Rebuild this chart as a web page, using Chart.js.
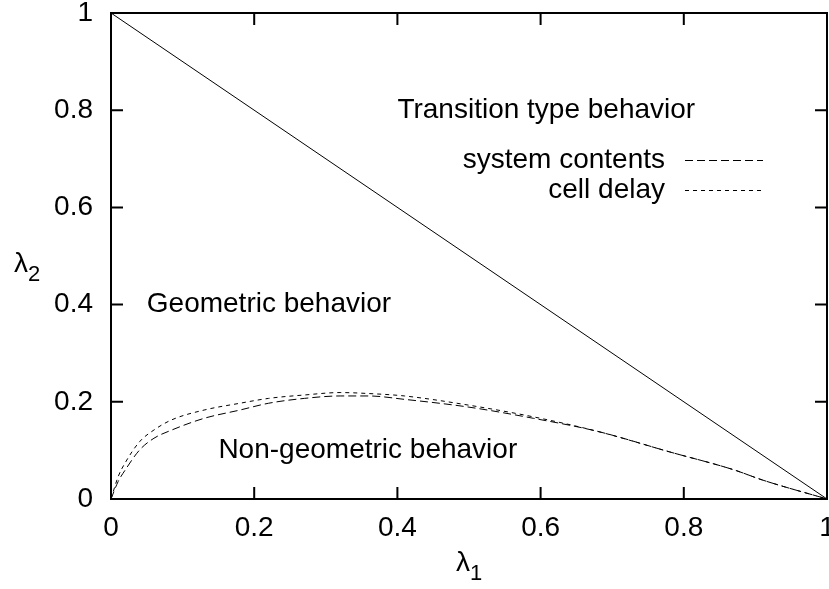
<!DOCTYPE html>
<html>
<head>
<meta charset="utf-8">
<script src="https://cdn.jsdelivr.net/npm/chart.js@4/dist/chart.umd.min.js"></script>
<style>
  html, body { margin: 0; padding: 0; background: #fff; }
  canvas { display: block; }
</style>
</head>
<body>
<canvas id="c" width="829" height="589"></canvas>
<script>
// Tick positions and their labels on both axes
const xTicks = [0, 0.2, 0.4, 0.6, 0.8, 1];
const xTickLabels = ["0", "0.2", "0.4", "0.6", "0.8", "1"];
const yTicks = [0, 0.2, 0.4, 0.6, 0.8, 1];
const yTickLabels = ["0", "0.2", "0.4", "0.6", "0.8", "1"];

// Boundary between geometric and transition behaviour: lambda1 + lambda2 = 1
const boundaryX = [0, 1];
const boundaryY = [1, 0];

// System contents boundary curve
const sysX = [0, 0.01, 0.02, 0.04, 0.06, 0.085, 0.13, 0.18, 0.22, 0.27, 0.32, 0.36, 0.41, 0.5, 0.59, 0.68, 0.78, 0.87, 0.91, 1];
const sysY = [0, 0.036, 0.060, 0.101, 0.125, 0.142, 0.166, 0.183, 0.197, 0.207, 0.212, 0.212, 0.205, 0.189, 0.166, 0.139, 0.097, 0.060, 0.039, 0];

// Cell delay boundary curve
const delayX = [0, 0.01, 0.02, 0.04, 0.06, 0.085, 0.13, 0.18, 0.22, 0.27, 0.32, 0.36, 0.41, 0.5, 0.59, 0.68, 0.78, 0.87, 0.91, 1];
const delayY = [0, 0.046, 0.075, 0.118, 0.142, 0.163, 0.183, 0.197, 0.207, 0.214, 0.219, 0.217, 0.212, 0.193, 0.169, 0.139, 0.097, 0.060, 0.039, 0];

// Region labels (left edge anchored at data coordinates)
const regionText = ["Transition type behavior", "Geometric behavior", "Non-geometric behavior"];
const regionX = [0.4, 0.05, 0.15];
const regionY = [0.8, 0.4, 0.1];

const seriesNames = ["system contents", "cell delay"];

const FONT = "Liberation Sans, Arial, Helvetica, sans-serif";
const FSIZE = 28;

const pts = (xs, ys) => xs.map((x, i) => ({ x: x, y: ys[i] }));

// Fixed plot box: no extra room reserved for overhanging end labels
const fixBox = (s, size) => {
  if (s.isHorizontal()) s.height = size; else s.width = size;
  s.paddingTop = 0; s.paddingBottom = 0; s.paddingLeft = 0; s.paddingRight = 0;
};

const framePlugin = {
  id: 'frame',
  afterDatasetsDraw(chart) {
    const ctx = chart.ctx;
    const a = chart.chartArea;
    const xs = chart.scales.x, ys = chart.scales.y;
    const tl = 12;
    ctx.save();
    ctx.strokeStyle = '#000';
    ctx.setLineDash([]);
    // inward ticks, mirrored on top and right
    ctx.lineWidth = 2;
    ctx.beginPath();
    xTicks.forEach(v => {
      const px = xs.getPixelForValue(v);
      ctx.moveTo(px, a.bottom); ctx.lineTo(px, a.bottom - tl);
      ctx.moveTo(px, a.top); ctx.lineTo(px, a.top + tl);
    });
    yTicks.forEach(v => {
      const py = ys.getPixelForValue(v);
      ctx.moveTo(a.left, py); ctx.lineTo(a.left + tl, py);
      ctx.moveTo(a.right, py); ctx.lineTo(a.right - tl, py);
    });
    ctx.stroke();
    // frame
    ctx.strokeRect(a.left, a.top, a.right - a.left, a.bottom - a.top);

    // region labels
    ctx.fillStyle = '#000';
    ctx.font = FSIZE + 'px ' + FONT;
    ctx.textBaseline = 'middle';
    ctx.textAlign = 'left';
    regionText.forEach((t, i) => {
      ctx.fillText(t, xs.getPixelForValue(regionX[i]), ys.getPixelForValue(regionY[i]));
    });

    // key
    const keyRight = 665, keyTop = 160, keyStep = 30, sampleL = 685, sampleR = 763;
    ctx.textAlign = 'right';
    seriesNames.forEach((name, i) => {
      const ds = chart.data.datasets[i + 1];
      const y = keyTop + i * keyStep;
      ctx.fillText(name, keyRight, y);
      ctx.lineWidth = ds.borderWidth;
      ctx.setLineDash(ds.borderDash);
      ctx.beginPath();
      ctx.moveTo(sampleL, y + 0.5);
      ctx.lineTo(sampleR, y + 0.5);
      ctx.stroke();
    });
    ctx.setLineDash([]);

    // axis titles with subscripts
    const drawSub = (base, sub, cx, cy) => {
      ctx.font = FSIZE + 'px ' + FONT;
      const wb = ctx.measureText(base).width;
      ctx.font = Math.round(FSIZE * 0.8) + 'px ' + FONT;
      const ws = ctx.measureText(sub).width;
      const x0 = cx - (wb + ws) / 2;
      ctx.textAlign = 'left';
      ctx.font = FSIZE + 'px ' + FONT;
      ctx.fillText(base, x0, cy);
      ctx.font = Math.round(FSIZE * 0.8) + 'px ' + FONT;
      ctx.fillText(sub, x0 + wb, cy + 11);
    };
    drawSub('λ', '1', (a.left + a.right) / 2, 563);
    drawSub('λ', '2', 27, 264);
    ctx.restore();
  }
};

new Chart(document.getElementById('c'), {
  type: 'line',
  data: {
    datasets: [
      { label: 'boundary', data: pts(boundaryX, boundaryY), borderColor: '#000', borderWidth: 1, pointRadius: 0, fill: false },
      { label: seriesNames[0], data: pts(sysX, sysY), borderColor: '#000', borderWidth: 1, borderDash: [8, 4], pointRadius: 0, fill: false, cubicInterpolationMode: 'monotone' },
      { label: seriesNames[1], data: pts(delayX, delayY), borderColor: '#000', borderWidth: 1, borderDash: [4, 4], pointRadius: 0, fill: false, cubicInterpolationMode: 'monotone' }
    ]
  },
  options: {
    responsive: false,
    animation: false,
    events: [],
    layout: { padding: { top: 13, right: 2, left: 0, bottom: 0 } },
    plugins: { legend: { display: false }, tooltip: { enabled: false } },
    scales: {
      x: {
        type: 'linear', min: 0, max: 1,
        afterBuildTicks: s => { s.ticks = xTicks.map(v => ({ value: v })); },
        afterFit: s => fixBox(s, 90),
        grid: { display: false, drawTicks: false },
        border: { display: false },
        ticks: {
          color: '#000', font: { family: FONT, size: FSIZE }, padding: 12, maxRotation: 0,
          callback: (v, i) => xTickLabels[i]
        }
      },
      y: {
        type: 'linear', min: 0, max: 1,
        afterBuildTicks: s => { s.ticks = yTicks.map(v => ({ value: v })); },
        afterFit: s => fixBox(s, 111),
        grid: { display: false, drawTicks: false },
        border: { display: false },
        ticks: {
          color: '#000', font: { family: FONT, size: FSIZE }, padding: 18,
          callback: (v, i) => yTickLabels[i]
        }
      }
    }
  },
  plugins: [framePlugin]
});
</script>
</body>
</html>
